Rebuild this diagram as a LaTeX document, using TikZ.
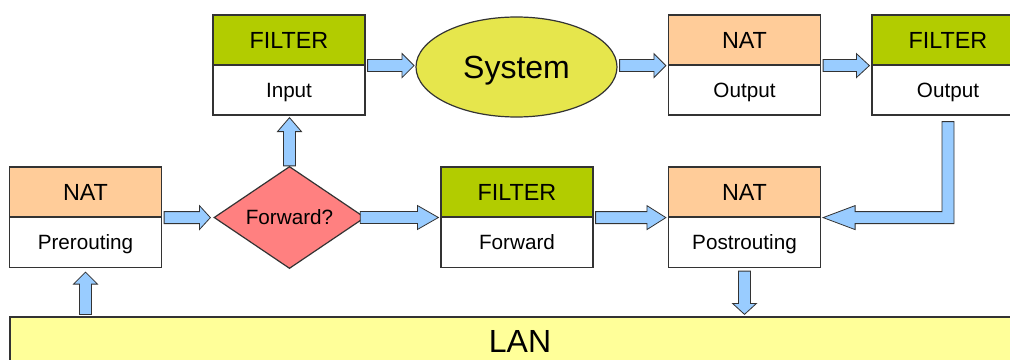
\documentclass[tikz,border=0pt]{standalone}
\usepackage{fontspec}
\setmainfont{Liberation Sans}
\usetikzlibrary{shapes.geometric,calc}
\definecolor{hgreen}{HTML}{B2CC00}
\definecolor{horange}{HTML}{FFCC99}
\definecolor{dred}{HTML}{FF8080}
\definecolor{eyellow}{HTML}{E6E64C}
\definecolor{lanyel}{HTML}{FFFF99}
\definecolor{ablue}{HTML}{99CCFF}
\definecolor{edge}{HTML}{333333}
\tikzset{
 smalltxt/.style={font=\fontsize{15.5}{18}\selectfont, text height=11.1pt, text depth=0pt},
 bigtxt/.style={font=\fontsize{24}{28}\selectfont, text height=17.2pt, text depth=0pt},
 box/.style={draw=edge, line width=0.9pt, minimum width=114pt, minimum height=37.5pt, inner sep=0pt, smalltxt},
 hdr/.style={box, font=\fontsize{17.5}{21}\selectfont, text height=12.5pt, text depth=0pt},
 filt/.style={hdr, fill=hgreen},
 nat/.style={hdr, fill=horange},
 body/.style={box, fill=white},
 blk/.style={draw=edge, line width=0.6pt, fill=ablue, line join=miter},
}
% right-pointing block arrow: start, tip, head length
\newcommand\arrR[3]{\draw[blk] let \p1=(#1), \p2=(#2) in
  (\x1,\y1+4.5pt) -- (\x2-#3,\y1+4.5pt) -- (\x2-#3,\y1+9pt) -- (\x2,\y1)
  -- (\x2-#3,\y1-9pt) -- (\x2-#3,\y1-4.5pt) -- (\x1,\y1-4.5pt) -- cycle;}
% up-pointing block arrow
\newcommand\arrU[3]{\draw[blk] let \p1=(#1), \p2=(#2) in
  (\x1-4.5pt,\y1) -- (\x1-4.5pt,\y2-#3) -- (\x1-9pt,\y2-#3) -- (\x1,\y2)
  -- (\x1+9pt,\y2-#3) -- (\x1+4.5pt,\y2-#3) -- (\x1+4.5pt,\y1) -- cycle;}
% down-pointing block arrow
\newcommand\arrD[3]{\draw[blk] let \p1=(#1), \p2=(#2) in
  (\x1-4.5pt,\y1) -- (\x1-4.5pt,\y2+#3) -- (\x1-9pt,\y2+#3) -- (\x1,\y2)
  -- (\x1+9pt,\y2+#3) -- (\x1+4.5pt,\y2+#3) -- (\x1+4.5pt,\y1) -- cycle;}
\begin{document}
\begin{tikzpicture}[x=0.75pt,y=-0.75pt]
\useasboundingbox (0,0) rectangle (1010,360);
\clip (0,0) rectangle (1010,360);
\fill[white] (0,0) rectangle (1010,360);

% LAN bar
\node[draw=edge, line width=0.9pt, fill=lanyel, minimum width=765pt, minimum height=36.75pt, inner sep=0pt,
  bigtxt] (lan) at (520,341.5) {LAN};

% boxes
\node[nat]  (preH) at (85.5,192)   {NAT};
\node[body] (preB) at (85.5,242.5) {Prerouting};

\node[filt] (inH) at (289,40) {FILTER};
\node[body] (inB) at (289,90) {Input};

\node[nat]  (natH) at (744.5,40) {NAT};
\node[body] (natB) at (744.5,90) {Output};

\node[filt] (filH) at (948,40) {FILTER};
\node[body] (filB) at (948,90) {Output};

\node[filt] (fwdH) at (517,192)   {FILTER};
\node[body] (fwdB) at (517,242.5) {Forward};

\node[nat]  (postH) at (744.5,192)   {NAT};
\node[body] (postB) at (744.5,242.5) {Postrouting};

\node[diamond, draw=edge, line width=0.9pt, fill=dred, minimum width=113.25pt, minimum height=75.75pt,
  inner sep=0pt, smalltxt] (dia) at (289.5,217.5) {Forward?};

\node[ellipse, draw=edge, line width=0.9pt, fill=eyellow, minimum width=150.75pt, minimum height=75pt,
  inner sep=0pt, bigtxt] (sys) at (516.5,67) {System};

% arrows
\arrR{[xshift=1.5pt]preH.south east}{[xshift=-2.25pt]dia.west}{8.25pt}
\arrU{dia.north}{[yshift=-1.5pt]inB.south}{10.5pt}
\arrR{[xshift=1.5pt]inH.south east}{[xshift=-1pt]sys.west}{9pt}
\arrR{$(sys.east |- natH.south)+(1.5pt,0)$}{[xshift=-1.5pt]natH.south west}{9pt}
\arrR{[xshift=1.5pt]natH.south east}{[xshift=-1.5pt]filH.south west}{9.75pt}
\arrR{[xshift=-4pt]dia.east}{[xshift=-1.5pt]fwdH.south west}{15.75pt}
\arrR{[xshift=1.5pt]fwdH.south east}{[xshift=-1.5pt]postH.south west}{14.25pt}
\draw[blk] let \p1=([yshift=-4.5pt]filB.south), \p2=([xshift=1.5pt]postH.south east) in
  (\x1-4.5pt,\y1) -- (\x1+4.5pt,\y1) -- (\x1+4.5pt,\y2-4.5pt) -- (\x2+24pt,\y2-4.5pt)
  -- (\x2+24pt,\y2-9pt) -- (\x2,\y2) -- (\x2+24pt,\y2+9pt) -- (\x2+24pt,\y2+4.5pt)
  -- (\x1-4.5pt,\y2+4.5pt) -- cycle;
\arrU{$(preB.south |- lan.north)+(0,1.5pt)$}{[yshift=-3pt]preB.south}{9pt}
\arrD{[yshift=-2.25pt]postB.south}{$(postB.south |- lan.north)+(0,1.5pt)$}{8.25pt}
\end{tikzpicture}
\end{document}
